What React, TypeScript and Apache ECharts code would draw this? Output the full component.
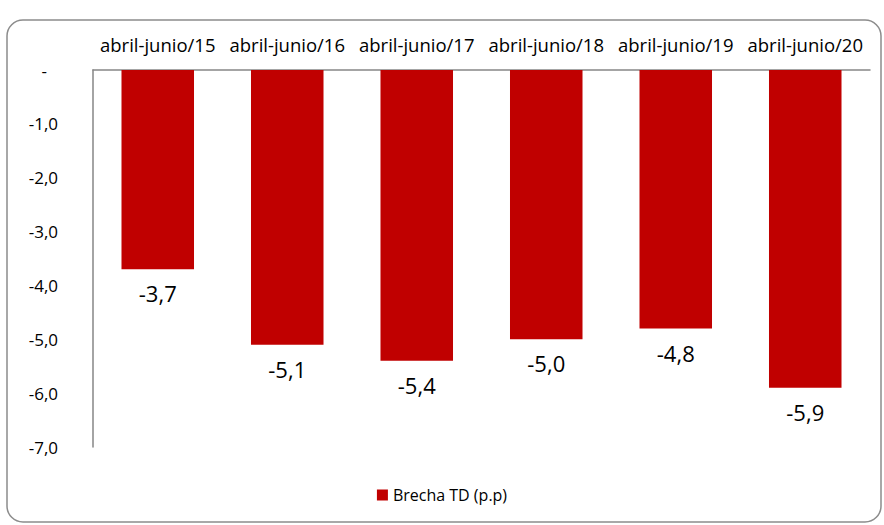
import React, { useEffect, useRef } from "react";
import * as echarts from "echarts";

const categories = [
  "abril-junio/15",
  "abril-junio/16",
  "abril-junio/17",
  "abril-junio/18",
  "abril-junio/19",
  "abril-junio/20",
];
const brechaValues = [-3.7, -5.1, -5.4, -5.0, -4.8, -5.9];
const seriesName = "Brecha TD (p.p)";

const fmt = (v: number) => v.toFixed(1).replace(".", ",");

export default function App() {
  const ref = useRef<HTMLDivElement>(null);
  useEffect(() => {
    if (!ref.current) return;
    const chart = echarts.init(ref.current, undefined, { renderer: "svg" });
    const font = "'Open Sans', 'Noto Sans', sans-serif";
    chart.setOption({
      animation: false,
      backgroundColor: "#ffffff",
      textStyle: { fontFamily: font },
      graphic: [
        {
          type: "rect",
          shape: { x: 7, y: 20, width: 874, height: 502, r: 16 },
          style: { fill: "none", stroke: "#8c8c8c", lineWidth: 1.5 },
          silent: true,
          z: -1,
        },
      ],
      grid: { left: 93, right: 14, top: 70, bottom: 78, containLabel: false },
      legend: {
        data: [seriesName],
        bottom: 17,
        left: "center",
        icon: "rect",
        itemWidth: 11,
        itemHeight: 11,
        itemGap: 5,
        textStyle: { fontSize: 16, color: "#000", fontFamily: font },
      },
      xAxis: {
        type: "category",
        position: "top",
        data: categories,
        axisLine: { lineStyle: { color: "#868686", width: 1.5 } },
        axisTick: { show: false },
        axisLabel: {
          interval: 0,
          margin: 16,
          fontSize: 18.5,
          color: "#000",
          fontFamily: font,
        },
      },
      yAxis: {
        type: "value",
        min: -7,
        max: 0,
        interval: 1,
        splitLine: { show: false },
        axisLine: { show: true, lineStyle: { color: "#868686", width: 1.5 } },
        axisTick: { show: false },
        axisLabel: {
          margin: 35,
          fontSize: 17,
          color: "#000",
          fontFamily: font,
          formatter: (v: number) => (v === 0 ? "{z|-}" : fmt(v)),
          rich: { z: { padding: [0, 11, 0, 0], fontSize: 17, color: "#000" } },
        },
      },
      series: [
        {
          name: seriesName,
          type: "bar",
          data: brechaValues,
          barWidth: "56%",
          itemStyle: { color: "#c00000" },
          label: {
            show: true,
            position: "bottom",
            distance: 13,
            fontSize: 22,
            color: "#000",
            fontFamily: font,
            formatter: (p: any) => fmt(p.value),
          },
        },
      ],
    });
    return () => chart.dispose();
  }, []);
  return (
    <div
      ref={ref}
      style={{ position: "fixed", left: 0, top: 0, width: 884, height: 525 }}
    />
  );
}
